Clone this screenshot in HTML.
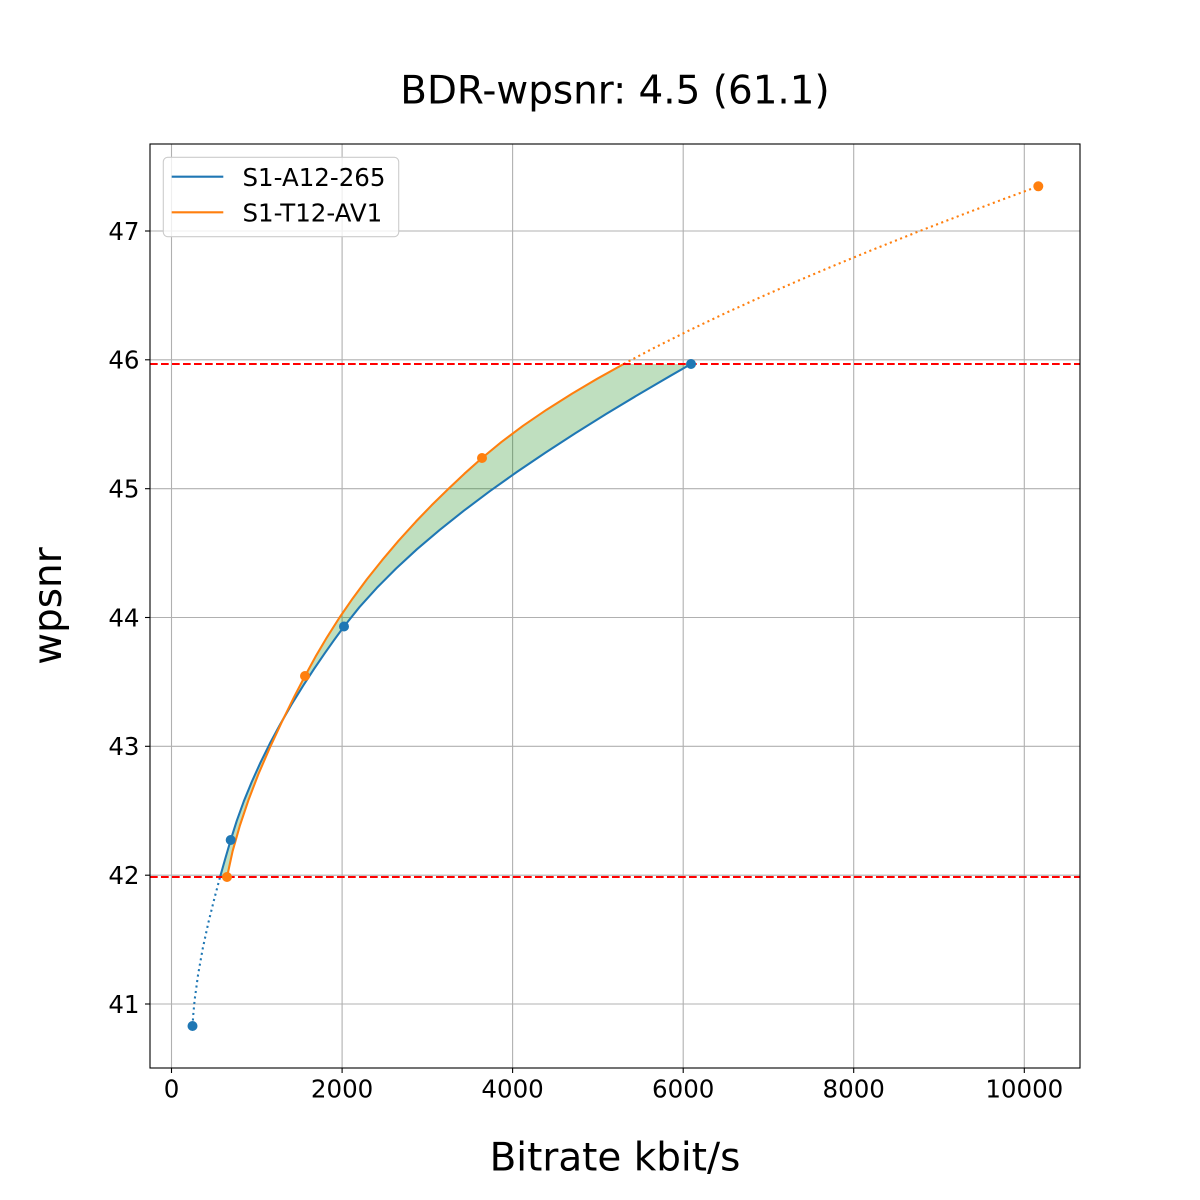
<!DOCTYPE html>
<html>
<head>
<meta charset="utf-8">
<style>
html,body{margin:0;padding:0;background:#ffffff;}
svg{display:block;}
text{font-family:"DejaVu Sans","Liberation Sans",sans-serif;fill:#000;}
</style>
</head>
<body>
<svg width="1200" height="1200" viewBox="0 0 1200 1200" xmlns="http://www.w3.org/2000/svg">
<rect x="0" y="0" width="1200" height="1200" fill="#ffffff"/>

<!-- grid -->
<g stroke="#b0b0b0" stroke-width="1.1" fill="none">
  <line x1="171.5" y1="144" x2="171.5" y2="1068"/>
  <line x1="342.1" y1="144" x2="342.1" y2="1068"/>
  <line x1="512.6" y1="144" x2="512.6" y2="1068"/>
  <line x1="683.2" y1="144" x2="683.2" y2="1068"/>
  <line x1="853.7" y1="144" x2="853.7" y2="1068"/>
  <line x1="1024.3" y1="144" x2="1024.3" y2="1068"/>
  <line x1="150" y1="231" x2="1080" y2="231"/>
  <line x1="150" y1="359.8" x2="1080" y2="359.8"/>
  <line x1="150" y1="488.7" x2="1080" y2="488.7"/>
  <line x1="150" y1="617.5" x2="1080" y2="617.5"/>
  <line x1="150" y1="746.3" x2="1080" y2="746.3"/>
  <line x1="150" y1="875.2" x2="1080" y2="875.2"/>
  <line x1="150" y1="1004" x2="1080" y2="1004"/>
</g>

<!-- fill between -->
<polygon fill="#008000" fill-opacity="0.25" stroke="none" points="
227.0,877.0 232.6,851.2 239.9,825.5 248.6,799.7 258.5,773.9 269.6,748.2 281.6,722.4 294.3,696.6 305.0,676.0
315.5,656.7 326.9,637.4 339.2,618.0 352.5,598.7 366.8,579.4 382.2,560.1 398.6,540.7 416.1,521.4 431.6,505.3 448.0,489.2 464.4,473.7 482.0,458.0
501.5,441.9 523.0,425.8 546.6,409.7 572.1,393.6 597.1,378.8 623.7,364.0
691.0,364.0 671.3,375.3 638.3,394.6 606.3,413.9 575.3,433.3 545.5,452.6 517.0,471.9 489.8,491.2 464.0,510.6
439.7,529.9 417.0,549.2 396.1,568.5 376.8,587.9 359.4,607.2 344.0,626.5
333.9,640.3 324.8,653.2 313.8,669.3 303.3,685.4 291.4,704.7 280.3,724.1 269.9,743.4 260.4,762.7 251.7,782.0 243.8,801.3 236.8,820.7 230.7,840.0 225.3,858.5 220.1,876.9"/>

<!-- blue curve -->
<polyline fill="none" stroke="#1f77b4" stroke-width="2.08" stroke-dasharray="2.08 3.44"
 points="192.5,1026 193.4,1013.1 194.6,1000.2 198.1,974.5 202.7,948.7 208.3,922.9 214.7,897.2 220.1,876.9"/>
<polyline fill="none" stroke="#1f77b4" stroke-width="2.08" stroke-linejoin="round"
 points="220.1,876.9 225.3,858.5 230.7,840.0 236.8,820.7 243.8,801.3 251.7,782.0 260.4,762.7 269.9,743.4 280.3,724.1 291.4,704.7 303.3,685.4 313.8,669.3 324.8,653.2 333.9,640.3 344.0,626.5
 359.4,607.2 376.8,587.9 396.1,568.5 417.0,549.2 439.7,529.9 464.0,510.6 489.8,491.2 517.0,471.9 545.5,452.6 575.3,433.3 606.3,413.9 638.3,394.6 671.3,375.3 691.0,364.0"/>

<!-- orange curve -->
<polyline fill="none" stroke="#ff7f0e" stroke-width="2.08" stroke-linejoin="round"
 points="227.0,877.0 232.6,851.2 239.9,825.5 248.6,799.7 258.5,773.9 269.6,748.2 281.6,722.4 294.3,696.6 305.0,676.0
 315.5,656.7 326.9,637.4 339.2,618.0 352.5,598.7 366.8,579.4 382.2,560.1 398.6,540.7 416.1,521.4 431.6,505.3 448.0,489.2 464.4,473.7 482.0,458.0
 501.5,441.9 523.0,425.8 546.6,409.7 572.1,393.6 597.1,378.8 623.7,364.0"/>
<polyline fill="none" stroke="#ff7f0e" stroke-width="2.08" stroke-dasharray="2.08 3.44"
 points="623.7,364.0 652.9,348.5 691.6,329.2 725.5,313.1 761.0,297.0 797.8,280.9 835.9,264.8 875.3,248.7 919.8,231.0 959.3,215.8 1000.3,200.3 1038.3,186.3"/>

<!-- red dashed lines -->
<g stroke="#ff0000" stroke-width="2.08" stroke-dasharray="7.7 3.3" fill="none">
  <line x1="150" y1="364" x2="1080" y2="364"/>
  <line x1="150" y1="877" x2="1080" y2="877"/>
</g>

<!-- markers -->
<g fill="#1f77b4">
  <circle cx="192.5" cy="1026" r="5"/>
  <circle cx="230.7" cy="840" r="5"/>
  <circle cx="344.0" cy="626.5" r="5"/>
  <circle cx="691.0" cy="364" r="5"/>
</g>
<g fill="#ff7f0e">
  <circle cx="227.0" cy="877" r="5"/>
  <circle cx="305.0" cy="676" r="5"/>
  <circle cx="482.0" cy="458" r="5"/>
  <circle cx="1038.3" cy="186.3" r="5"/>
</g>

<!-- spines -->
<rect x="150" y="144" width="930" height="924" fill="none" stroke="#000" stroke-width="1.1"/>

<!-- ticks -->
<g stroke="#000" stroke-width="1.1">
  <line x1="171.5" y1="1068" x2="171.5" y2="1073"/>
  <line x1="342.1" y1="1068" x2="342.1" y2="1073"/>
  <line x1="512.6" y1="1068" x2="512.6" y2="1073"/>
  <line x1="683.2" y1="1068" x2="683.2" y2="1073"/>
  <line x1="853.7" y1="1068" x2="853.7" y2="1073"/>
  <line x1="1024.3" y1="1068" x2="1024.3" y2="1073"/>
  <line x1="145" y1="231" x2="150" y2="231"/>
  <line x1="145" y1="359.8" x2="150" y2="359.8"/>
  <line x1="145" y1="488.7" x2="150" y2="488.7"/>
  <line x1="145" y1="617.5" x2="150" y2="617.5"/>
  <line x1="145" y1="746.3" x2="150" y2="746.3"/>
  <line x1="145" y1="875.2" x2="150" y2="875.2"/>
  <line x1="145" y1="1004" x2="150" y2="1004"/>
</g>

<!-- tick labels -->
<g font-size="24.5" text-anchor="middle">
  <text x="171.5" y="1097.5">0</text>
  <text x="342.1" y="1097.5">2000</text>
  <text x="512.6" y="1097.5">4000</text>
  <text x="683.2" y="1097.5">6000</text>
  <text x="853.7" y="1097.5">8000</text>
  <text x="1024.3" y="1097.5">10000</text>
</g>
<g font-size="24.5" text-anchor="end">
  <text x="139.5" y="239.8">47</text>
  <text x="139.5" y="368.6">46</text>
  <text x="139.5" y="497.5">45</text>
  <text x="139.5" y="626.3">44</text>
  <text x="139.5" y="755.1">43</text>
  <text x="139.5" y="884.0">42</text>
  <text x="139.5" y="1012.8">41</text>
</g>

<!-- title and axis labels -->
<text x="615" y="103.5" font-size="38.9" text-anchor="middle">BDR-wpsnr: 4.5 (61.1)</text>
<text x="615" y="1170.7" font-size="38.9" text-anchor="middle">Bitrate kbit/s</text>
<text transform="translate(61,606) rotate(-90)" font-size="38.9" text-anchor="middle">wpsnr</text>

<!-- legend -->
<rect x="163.3" y="157.3" width="235.4" height="79.4" rx="4.4" ry="4.4" fill="#ffffff" fill-opacity="0.8" stroke="#cccccc" stroke-width="1.1"/>
<line x1="171.7" y1="176.7" x2="223.3" y2="176.7" stroke="#1f77b4" stroke-width="2.08"/>
<line x1="171.7" y1="212.3" x2="223.3" y2="212.3" stroke="#ff7f0e" stroke-width="2.08"/>
<text x="242.5" y="186" font-size="24.5">S1-A12-265</text>
<text x="242.5" y="221.6" font-size="24.5">S1-T12-AV1</text>
</svg>
</body>
</html>
